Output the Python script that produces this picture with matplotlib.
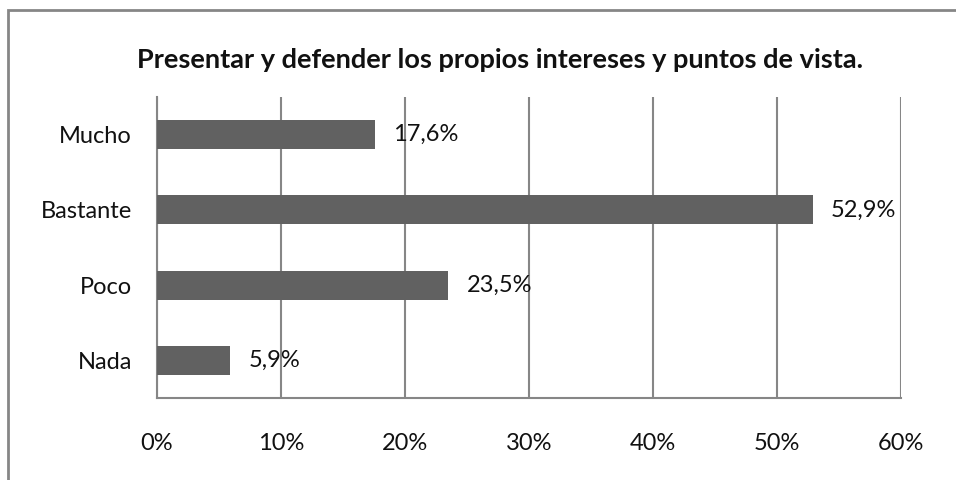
#importar pacotes
import matplotlib.pyplot as plt
from matplotlib.patches import Rectangle
from matplotlib.ticker import FuncFormatter

#dados
categorias = ['Nada', 'Poco', 'Bastante', 'Mucho']
valores = [5.9, 23.5, 52.9, 17.6]
rotulos = ['5,9%', '23,5%', '52,9%', '17,6%']
ticks_x = [0, 10, 20, 30, 40, 50, 60]

titulo = 'Presentar y defender los propios intereses y puntos de vista.'

plt.rcParams['font.family'] = ['Lato', 'DejaVu Sans']

#criar figura
fig = plt.figure(figsize=(9.56, 4.8), dpi=100)
ax = fig.add_axes([157/956, 1 - 398/480, (901 - 157)/956, (398 - 97)/480])

#moldura externa
fig.patches.append(Rectangle((8/956, -0.1), 1.2, 1 - 10/480 + 0.1,
                             transform=fig.transFigure, fill=False,
                             edgecolor='#868686', linewidth=2))

#barras
ax.barh(range(len(categorias)), valores, height=0.385, color='#616161', zorder=3)

#rotulos das barras
for i, (v, r) in enumerate(zip(valores, rotulos)):
    ax.annotate(r, (v, i), xytext=(13, 0), textcoords='offset points',
                ha='left', va='center', fontsize=17, color='#111111', zorder=4)

#eixos
ax.set_xlim(0, 60)
ax.set_ylim(-0.5, 3.5)
ax.set_xticks(ticks_x)
ax.xaxis.set_major_formatter(FuncFormatter(lambda x, p: '%d%%' % x))
ax.set_yticks(range(len(categorias)))
ax.set_yticklabels(categorias)
ax.tick_params(axis='both', length=0, labelsize=17, labelcolor='#111111')
ax.tick_params(axis='x', pad=25)
ax.tick_params(axis='y', pad=18)
ax.grid(axis='x', color='#868686', linewidth=1.5, zorder=0)
for s in ['top', 'right']:
    ax.spines[s].set_visible(False)
for s in ['left', 'bottom']:
    ax.spines[s].set_color('#868686')
    ax.spines[s].set_linewidth(1.5)

#titulo
fig.text(500/956, 1 - 60/480, titulo, ha='center', va='center',
         fontsize=19.5, fontweight='bold', color='#111111')

#salvar a figura
fig.savefig('out.png', dpi=100)
